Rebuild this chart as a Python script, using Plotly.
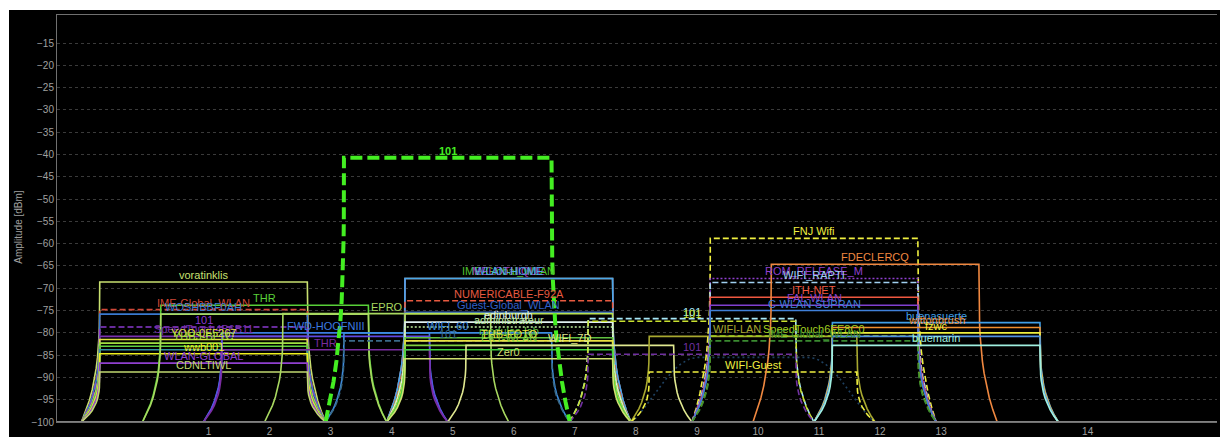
import numpy as np
import plotly.graph_objects as go

# ---- data -------------------------------------------------------------
channel_ticks = [1, 2, 3, 4, 5, 6, 7, 8, 9, 10, 11, 12, 13, 14]
channel_freqs = [2412, 2417, 2422, 2427, 2432, 2437, 2442, 2447, 2452, 2457, 2462, 2467, 2472, 2484]

ssids = [
    # channel 1
    "voratinklis", "IME-Global_WLAN", "WOSHBBF0AH", "101", "SpeedTouch4B6B11",
    "YOO-0F5267", "YHB3-BF1C", "", "", "wwb001", "WLAN-GLOBAL", "CDNLTIWL",
    # channel 2
    "THR", "",
    # channel 3
    "FWD-HOOFNIII", "", "THR",
    # channel 4
    "EPRO",
    # channel 5
    "WIFI_60", "101",
    # channel 6
    "IME-Global_WLAN", "MELOTHIQUE", "WLAN-HOME", "NUMERICABLE-F92A", "Guest-Global_WLAN", "",
    "edinburgh", "administrateur", "modules-lab", "THB-FOTO", "EKT-WLAN", "", "Zer0",
    # channel 7
    "WIFI_7D",
    # channel 9
    "101", "101", "101",
    # channel 10
    "WIFI-LAN", "WIFI-Guest",
    # channel 11
    "FNJ Wifi", "ROM_RELEASE_M", "WIFI_RAPTI", "ITH-NET", "FAL-WLAN", "C-WLAN-SUPRAN",
    "SpeedTouch6FE8C0", "IME-Global_WLAN",
    # channel 12
    "FDECLERCQ",
    # channel 13
    "buenasuerte", "wittonbrush", "fzwc", "", "bluemarin",
    # channel 5 (selected)
    "101",
]
channels = [
    1, 1, 1, 1, 1, 1, 1, 1, 1, 1, 1, 1,
    2, 2,
    3, 3, 3,
    4,
    5, 5,
    6, 6, 6, 6, 6, 6, 6, 6, 6, 6, 6, 6, 6,
    7,
    9, 9, 9,
    10, 10,
    11, 11, 11, 11, 11, 11, 11, 11,
    12,
    13, 13, 13, 13, 13,
    5,
]
amplitudes = [
    -68.6, -74.8, -75.8, -78.7, -80.8, -81.5, -82.3, -83.0, -83.8, -84.7, -86.8, -88.8,
    -73.8, -75.8,
    -80.0, -80.8, -83.8,
    -75.7,
    -80.0, -81.8,
    -67.8, -67.8, -67.8, -72.8, -75.4, -75.7,
    -77.6, -78.7, -81.1, -81.8, -82.8, -83.8, -85.8,
    -82.8,
    -76.8, -77.4, -84.8,
    -80.8, -88.8,
    -58.8, -67.8, -68.7, -72.0, -73.8, -75.0, -80.7, -81.8,
    -64.6,
    -77.7, -78.8, -80.0, -80.8, -82.8,
    -40.7,
]
colors = [
    "#c8e070", "#d04838", "#3a7ad0", "#8a3ad0", "#7a30b0", "#e0e040", "#a0e040", "#60d040",
    "#3090a0", "#f0f020", "#9040d0", "#c0d870",
    "#58d038", "#a8d860",
    "#3c7ce0", "#6048e0", "#7a2ca0",
    "#a8d860",
    "#3c8ce0", "#3a6a88",
    "#50c030", "#a040c0", "#4aa8e8", "#e85a40", "#3060c8", "#b8e050",
    "#e0f0f0", "#c0f0a0", "#60c040", "#e8e040", "#80d040", "#40d040", "#d0e070",
    "#e0e890",
    "#a8e8f8", "#c8e030", "#7030a0",
    "#a8a830", "#f0f040",
    "#f0f040", "#9040d0", "#a0d0f0", "#f05840", "#8040d0", "#4080d8", "#a0d020", "#3a8a30",
    "#f08840",
    "#40a0e8", "#f09030", "#f0f040", "#5090e0", "#a0f0e0",
    "#44ee22",
]
styles = [
    "solid", "dash", "solid", "dash", "solid", "solid", "solid", "solid", "solid", "solid", "solid", "solid",
    "solid", "solid",
    "solid", "solid", "solid",
    "solid",
    "solid", "dash",
    "solid", "solid", "solid", "dash", "solid", "solid",
    "solid", "dot", "solid", "solid", "solid", "solid", "solid",
    "solid",
    "dash", "dash", "dash",
    "solid", "dash",
    "dash", "dot", "dash", "solid", "solid", "solid", "dash", "dash",
    "solid",
    "solid", "solid", "solid", "solid", "solid",
    "bold",
]

# weak 802.11b-like dotted shape around channel 10
dsss_channel = 10
dsss_amplitude = -85.5

y_ticks = [-15, -20, -25, -30, -35, -40, -45, -50, -55, -60, -65, -70, -75, -80, -85, -90, -95, -100]

# ---- helpers ------------------------------------------------------------
FREQ = dict(zip(channel_ticks, channel_freqs))
FLOOR = -100.0
HALF_TOP = 8.5
HALF_BOT = 10.0
LABEL_XSHIFT = {"WIFI-LAN": -16}


def profile(center, amp):
    s = np.linspace(0, 1, 14)
    drop = amp - s * (amp - FLOOR)
    off = (HALF_BOT - HALF_TOP) * s ** 3.4
    lx = (center - HALF_TOP - off)[::-1]
    ly = drop[::-1]
    rx = center + HALF_TOP + off
    ry = drop
    return np.concatenate([lx, rx]), np.concatenate([ly, ry])


dash_map = {"solid": "solid", "dash": "6px,3px", "dot": "2px,2px", "bold": "12px,5px"}

fig = go.Figure()
annotations = []

# dotted bell
cx = FREQ[dsss_channel]
t = np.linspace(0, 1, 20)
bx = np.concatenate([cx - 10 + 5.5 * t, [cx + 4.5], cx + 4.5 + 5.5 * t])
by = np.concatenate([FLOOR + (dsss_amplitude - FLOOR) * np.sin(t * np.pi / 2) ** 1.3,
                     [dsss_amplitude],
                     FLOOR + (dsss_amplitude - FLOOR) * np.cos(t * np.pi / 2) ** 1.3])
fig.add_trace(go.Scatter(x=bx, y=by, mode="lines", hoverinfo="skip",
                         line=dict(color="#1e4060", width=1.6, dash="2px,3px")))

for name, ch, amp, col, sty in zip(ssids, channels, amplitudes, colors, styles):
    c = FREQ[ch]
    x, y = profile(c, amp)
    w = 4 if sty == "bold" else 1.6
    fig.add_trace(go.Scatter(x=x, y=y, mode="lines", hoverinfo="skip",
                             line=dict(color=col, width=w, dash=dash_map[sty])))
    if name:
        annotations.append(dict(x=c, y=amp, xref="x", yref="y", text=("<b>%s</b>" % name) if sty == "bold" else name,
                                showarrow=False, yanchor="bottom", xanchor="center", yshift=-1,
                                xshift=LABEL_XSHIFT.get(name, 0),
                                font=dict(color=col, size=11, family="Liberation Sans, Arial, sans-serif")))

annotations.append(dict(text="Amplitude [dBm]", xref="paper", yref="paper", x=-0.0335, y=0.48,
                        textangle=-90, showarrow=False, xanchor="center", yanchor="middle",
                        font=dict(color="#a0a0a0", size=10, family="Liberation Sans, Arial, sans-serif")))

fig.add_shape(type="line", xref="paper", yref="y", x0=0, x1=1, y0=-100, y1=-100,
              line=dict(color="#808080", width=2))

fig.update_layout(
    width=1211, height=427,
    margin=dict(l=48, r=3, t=5, b=15),
    paper_bgcolor="#000000", plot_bgcolor="#000000",
    showlegend=False,
    annotations=annotations,
    xaxis=dict(range=[2400, 2495], tickvals=channel_freqs, ticktext=[str(c) for c in channel_ticks],
               showgrid=False, zeroline=False, showline=True, linecolor="#707070", linewidth=1,
               mirror=True, ticks="", automargin=False, ticklabelshift=5,
               tickfont=dict(color="#a0a0a0", size=10, family="Liberation Sans, Arial, sans-serif")),
    yaxis=dict(range=[-100, -8.7], tickvals=y_ticks, showgrid=True, gridcolor="#3a3a3a",
               griddash="dot", gridwidth=1, zeroline=False, showline=True, linecolor="#707070",
               linewidth=1, ticks="", automargin=False,
               tickfont=dict(color="#a0a0a0", size=10, family="Liberation Sans, Arial, sans-serif")),
)

fig.write_html("out.html", post_script="document.body.style.margin='10px 0 0 9px';document.body.style.overflow='hidden';")
